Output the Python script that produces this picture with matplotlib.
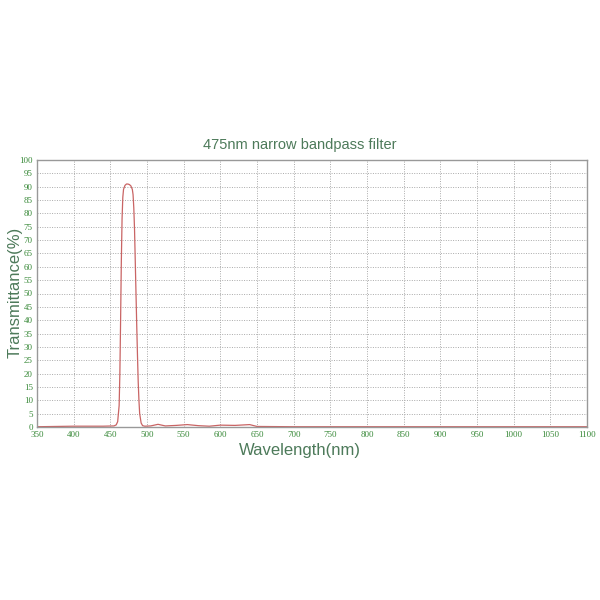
import matplotlib
matplotlib.use("Agg")
import matplotlib.pyplot as plt

wavelength = [350, 400, 440, 455, 458, 460, 462, 463, 464, 465, 466, 467, 468, 470, 472, 474, 476, 478, 480, 481, 482, 483, 484, 485, 486, 487, 488, 489, 490, 492, 494, 497, 505, 515, 525, 540, 555, 570, 585, 600, 620, 640, 650, 700, 800, 900, 1000, 1100]
transmittance = [0.1, 0.3, 0.3, 0.4, 0.8, 2, 8, 20, 40, 62, 78, 86, 89, 90.5, 91, 91, 90.8, 90.3, 89, 87, 82, 74, 62, 50, 38, 27, 17, 10, 5, 1.5, 0.5, 0.3, 0.4, 1.0, 0.4, 0.6, 0.9, 0.5, 0.3, 0.7, 0.6, 0.9, 0.2, 0.1, 0.1, 0.1, 0.1, 0.1]
xticks = list(range(350, 1101, 50))
yticks = list(range(0, 101, 5))

title = "475nm narrow bandpass filter"
xlabel = "Wavelength(nm)"
ylabel = "Transmittance(%)"

green = "#3a8a3a"
label_col = "#4d7a5a"

fig = plt.figure(figsize=(6, 6), dpi=100)
ax = fig.add_axes([37/600, 1-427/600, 550/600, 267/600])
ax.plot(wavelength, transmittance, color="#c96464", lw=0.9)
ax.set_xlim(350, 1100)
ax.set_ylim(0, 100)
ax.set_xticks(xticks)
ax.set_yticks(yticks)
ax.tick_params(length=0, labelsize=6.5, labelcolor=green, pad=3)
for lab in ax.get_xticklabels() + ax.get_yticklabels():
    lab.set_family("Liberation Serif")
ax.grid(True, color="#aaaaaa", linestyle=(0, (1, 1.5)), lw=0.7)
for s in ax.spines.values():
    s.set_color("#999999")
    s.set_linewidth(1.0)
ax.set_xlabel(xlabel, fontsize=12, color=label_col, family="Liberation Sans")
ax.set_ylabel(ylabel, fontsize=12, color=label_col, family="Liberation Sans")
ax.xaxis.set_label_coords((300 - 37) / 550, -(450 - 427) / 267, transform=ax.transAxes)
ax.xaxis.label.set_va("center")
ax.yaxis.set_label_coords(-(37 - 15) / 550, (427 - 292) / 267, transform=ax.transAxes)
ax.yaxis.label.set_va("center")
fig.text(0.5, 1-145/600, title, ha="center", va="center", fontsize=10.5, color=label_col, family="Liberation Sans")
fig.savefig("out.png", dpi=100, facecolor="white")
